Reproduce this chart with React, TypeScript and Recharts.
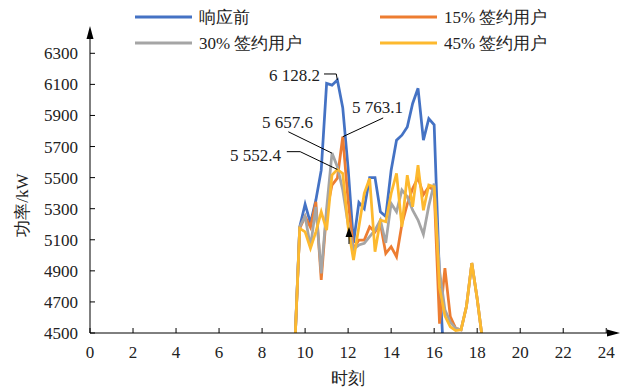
import React from "react";
import { LineChart, Line, XAxis, YAxis, ReferenceLine } from "recharts";

// 15-min samples, hours
const times = [
  9.5, 9.75, 10, 10.25, 10.5, 10.75, 11, 11.25, 11.5, 11.75, 12, 12.25, 12.5,
  12.75, 13, 13.25, 13.5, 13.75, 14, 14.25, 14.5, 14.75, 15, 15.25, 15.5, 15.75,
  16, 16.25, 16.5, 16.75, 17, 17.25, 17.5, 17.75, 18, 18.25, 18.5,
];

const beforeResponse = [
  4340, 5183, 5329, 5207, 5355, 5548, 6106, 6095, 6128.2, 5950, 5560, 5080, 5340,
  5300, 5500, 5500, 5280, 5250, 5548, 5741, 5773, 5826, 5977, 6075, 5741, 5880,
  5840, 4850, 4200, null, null, null, null, null, null, null, null,
];

const signed15 = [
  4340, 5173, 5250, 5180, 5344, 4841, 5280, 5452, 5497, 5763.1, 5350, 5040, 5098,
  5098, 5183, 5151, 5205, 5012, 5055, 4991, 5200, 5330, 5430, 5500, 5390, 5440,
  5420, 4560, 4918, 4605, 4530, 4520, 4670, 4950, 4720, 4450, null,
];

const signed30 = [
  4340, 5183, 5250, 5055, 5312, 4884, 5300, 5657.6, 5570, 5420, 5200, 5040, 5066,
  5077, 5120, 5162, 5227, 5080, 5334, 5280, 5420, 5377, 5290, 5227, 5135, 5318,
  5462, 4900, 4650, 4570, 4530, 4520, 4670, 4950, 4720, 4450, null,
];

const signed45 = [
  4340, 5173, 5151, 5045, 5151, 5280, 5162, 5516, 5552.4, 5527, 5183, 4969, 5183,
  5398, 5495, 5023, 5227, 5216, 5398, 5527, 5183, 5516, 5312, 5580, 5290, 5452,
  5441, 4790, 4610, 4540, 4515, 4520, 4670, 4950, 4720, 4450, null,
];

const xTicks = [0, 2, 4, 6, 8, 10, 12, 14, 16, 18, 20, 22, 24];
const yTicks = [4500, 4700, 4900, 5100, 5300, 5500, 5700, 5900, 6100, 6300];

const series = [
  { key: "before", name: "响应前", color: "#4472C4", values: beforeResponse },
  { key: "s15", name: "15% 签约用户", color: "#ED7D31", values: signed15 },
  { key: "s30", name: "30% 签约用户", color: "#A5A5A5", values: signed30 },
  { key: "s45", name: "45% 签约用户", color: "#FDB92E", values: signed45 },
];

const data = times.map((t, i) => {
  const row: Record<string, number | null> = { t };
  series.forEach((s) => (row[s.key] = s.values[i]));
  return row;
});

// leader lines for the peak labels (data coords)
const leaders = [
  [[10.88, 6167], [11.45, 6167], [11.5, 6128.2]],
  [[13.63, 5884], [11.75, 5763.1]],
  [[9.22, 5795], [11.25, 5657.6]],
  [[9.15, 5667], [9.77, 5667], [11.5, 5552.4]],
];

const FONT = "serif";
const txt = { fontFamily: FONT, fontSize: 17 };

const XTick = (props: any) => {
  const { x, y, payload } = props;
  return (
    <g>
      <line x1={x} y1={y} x2={x} y2={y - 5} stroke="#000" strokeWidth={1} />
      <text x={x} y={y + 25} textAnchor="middle" style={txt} fill="#222">
        {payload.value}
      </text>
    </g>
  );
};

const YTick = (props: any) => {
  const { x, y, payload } = props;
  return (
    <g>
      <line x1={x} y1={y} x2={x + 5} y2={y} stroke="#000" strokeWidth={1} />
      <text x={x - 12} y={y + 6} textAnchor="end" style={txt} fill="#222">
        {payload.value}
      </text>
    </g>
  );
};

export default function App() {
  const legendPos = [
    { lx: 135, tx: 199, y: 17 },
    { lx: 380, tx: 444, y: 17 },
    { lx: 135, tx: 199, y: 43 },
    { lx: 380, tx: 444, y: 43 },
  ];
  return (
    <div style={{ position: "absolute", left: 0, top: 0, width: 628, height: 392, background: "#fff" }}>
      <LineChart
        width={628}
        height={392}
        data={data}
        margin={{ top: 30, right: 11, bottom: 0, left: 0 }}
      >
        <XAxis
          dataKey="t"
          type="number"
          domain={[0, 24.5]}
          ticks={xTicks}
          allowDataOverflow
          height={59}
          tickSize={0}
          tickMargin={0}
          tickLine={false}
          axisLine={{ stroke: "#000", strokeWidth: 1 }}
          tick={<XTick />}
        />
        <YAxis
          type="number"
          domain={[4500, 6450]}
          ticks={yTicks}
          allowDataOverflow
          width={90}
          tickSize={0}
          tickMargin={0}
          tickLine={false}
          axisLine={{ stroke: "#000", strokeWidth: 1 }}
          tick={<YTick />}
        />
        {series.map((s) => (
          <Line
            key={s.key}
            dataKey={s.key}
            name={s.name}
            stroke={s.color}
            strokeWidth={2.75}
            dot={false}
            type="linear"
            isAnimationActive={false}
          />
        ))}
        {leaders.flatMap((pts, li) =>
          pts.slice(1).map((p, i) => (
            <ReferenceLine
              key={`l${li}-${i}`}
              segment={[
                { x: pts[i][0], y: pts[i][1] },
                { x: p[0], y: p[1] },
              ]}
              stroke="#000"
              strokeWidth={1}
              ifOverflow="visible"
            />
          ))
        )}
      </LineChart>
      <svg
        width={628}
        height={392}
        style={{ position: "absolute", left: 0, top: 0, pointerEvents: "none" }}
      >
        {/* axis arrows */}
        <polygon points="90,26 86.5,39 93.5,39" fill="#000" />
        <polygon points="620,333 607,329.5 607,336.5" fill="#000" />
        {/* small marker arrow */}
        <polygon points="349,227 345.5,237 352.5,237" fill="#000" />
        <line x1={349} y1={236} x2={349} y2={244} stroke="#000" strokeWidth={1} />
        {/* peak labels */}
        <text x={320} y={81} textAnchor="end" style={txt} fill="#222">6 128.2</text>
        <text x={352} y={113} style={txt} fill="#222">5 763.1</text>
        <text x={313} y={128} textAnchor="end" style={txt} fill="#222">5 657.6</text>
        <text x={281} y={161} textAnchor="end" style={txt} fill="#222">5 552.4</text>
        {/* axis titles */}
        <text x={348} y={384} textAnchor="middle" style={txt} fill="#222">时刻</text>
        <text
          x={22}
          y={205}
          textAnchor="middle"
          style={txt}
          fill="#222"
          transform="rotate(-90 22 205)"
          dominantBaseline="central"
        >
          功率/kW
        </text>
        {/* legend */}
        {series.map((s, i) => (
          <g key={s.key}>
            <line
              x1={legendPos[i].lx}
              y1={legendPos[i].y}
              x2={legendPos[i].lx + 57}
              y2={legendPos[i].y}
              stroke={s.color}
              strokeWidth={3}
            />
            <text x={legendPos[i].tx} y={legendPos[i].y + 6} style={txt} fill="#222">
              {s.name}
            </text>
          </g>
        ))}
      </svg>
    </div>
  );
}
